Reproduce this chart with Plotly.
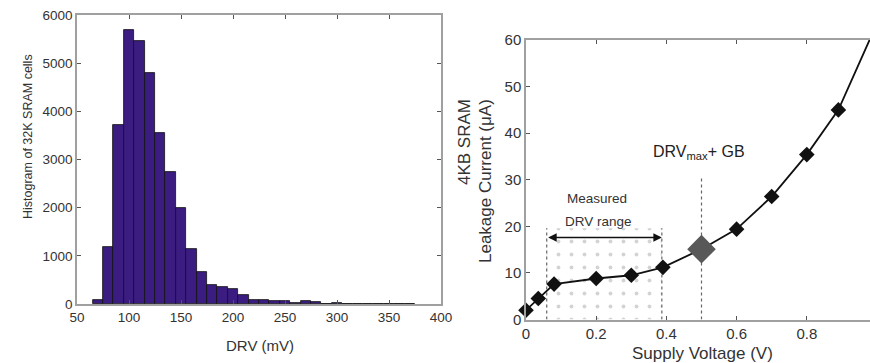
import plotly.graph_objects as go

# ---------------- data ----------------
drv_bin_centers = [70, 80, 90, 100, 110, 120, 130, 140, 150, 160, 170, 180, 190, 200,
                   210, 220, 230, 240, 250, 260, 270, 280, 290, 300, 310, 320, 330,
                   340, 350, 360, 370]
drv_counts = [80, 1190, 3720, 5690, 5470, 4800, 3550, 2740, 1990, 1150, 660, 400, 355, 315,
              195, 90, 75, 55, 55, 25, 55, 40, 10, 25, 5, 10, 10,
              0, 0, 10, 0]
hist_xticks = [50, 100, 150, 200, 250, 300, 350, 400]
hist_yticks = [0, 1000, 2000, 3000, 4000, 5000, 6000]

supply_v = [0, 0.035, 0.08, 0.2, 0.3, 0.39, 0.5, 0.6, 0.7, 0.8, 0.89]
leak_ua = [2.0, 4.5, 7.6, 8.8, 9.5, 11.2, 15.1, 19.4, 26.4, 35.4, 45.0]
curve_tail_v = [0.89, 1.0]
curve_tail_ua = [45.0, 63.6]
drvmax_gb_v = [0.5]
drvmax_gb_ua = [15.1]
drv_range_v = [0.059, 0.387]
drv_range_top = 19.6
drvmax_line_top = 30.5
v_ticks = [0, 0.2, 0.4, 0.6, 0.8]
i_ticks = [0, 10, 20, 30, 40, 50, 60]

W, H = 870, 363
def px(x):
    return x / W
def py(y):
    return 1 - y / H

TXT = "#333333"
AX = "#a0a0a0"
FONT = "Liberation Sans, Arial, sans-serif"

fig = go.Figure()

# ---------------- left: histogram ----------------
fig.add_trace(go.Bar(
    x=drv_bin_centers, y=drv_counts, width=10,
    marker=dict(color="#3b1c80", line=dict(color="#111111", width=0.8)),
    xaxis="x", yaxis="y", showlegend=False))

# ---------------- right: leakage curve ----------------
fig.add_trace(go.Scatter(
    x=[drv_range_v[0], drv_range_v[1], drv_range_v[1], drv_range_v[0], drv_range_v[0]],
    y=[0, 0, drv_range_top, drv_range_top, 0],
    mode="none", fill="toself", fillcolor="white",
    fillpattern=dict(shape=".", fgcolor="#a8a8a8", bgcolor="white", size=13, solidity=0.07),
    xaxis="x2", yaxis="y2", showlegend=False, hoverinfo="skip"))

for xv, top in [(drv_range_v[0], drv_range_top), (drv_range_v[1], drv_range_top),
                (drvmax_gb_v[0], drvmax_line_top)]:
    fig.add_trace(go.Scatter(
        x=[xv, xv], y=[0, top], mode="lines",
        line=dict(color="#666666", width=1.2, dash="dot"),
        xaxis="x2", yaxis="y2", showlegend=False, hoverinfo="skip"))

fig.add_trace(go.Scatter(
    x=supply_v + curve_tail_v[1:], y=leak_ua + curve_tail_ua[1:], mode="lines",
    line=dict(color="#111111", width=1.8),
    xaxis="x2", yaxis="y2", showlegend=False))

mv = [v for v, c in zip(supply_v, leak_ua) if v not in drvmax_gb_v]
mc = [c for v, c in zip(supply_v, leak_ua) if v not in drvmax_gb_v]
fig.add_trace(go.Scatter(
    x=mv, y=mc, mode="markers",
    marker=dict(symbol="diamond", size=12, color="#111111"),
    cliponaxis=False, xaxis="x2", yaxis="y2", showlegend=False))

fig.add_trace(go.Scatter(
    x=drvmax_gb_v, y=drvmax_gb_ua, mode="markers",
    marker=dict(symbol="diamond", size=22, color="#585858"),
    cliponaxis=False, xaxis="x2", yaxis="y2", showlegend=False))

axis_common = dict(showline=True, linecolor=AX, linewidth=1.5, showgrid=False,
                   zeroline=False, ticks="inside", ticklen=4, tickcolor="#555555",
                   tickwidth=1, automargin=False)

fig.update_layout(
    width=W, height=H,
    margin=dict(l=0, r=0, t=0, b=0, autoexpand=False),
    paper_bgcolor="white", plot_bgcolor="white",
    bargap=0,
    font=dict(family=FONT, color=TXT),
    xaxis=dict(domain=[px(77), px(441)], range=[50, 400], tickvals=hist_xticks,
               ticktext=[str(v) for v in hist_xticks], mirror="ticks",
               tickfont=dict(size=13.5, color=TXT), anchor="y", **axis_common),
    yaxis=dict(domain=[py(304), py(15)], range=[0, 6000], tickvals=hist_yticks,
               mirror="ticks", tickfont=dict(size=13.5, color=TXT), anchor="x",
               **axis_common),
    xaxis2=dict(domain=[px(526), 1.0], range=[0, (870 - 526) / 351.0], tickvals=v_ticks,
                ticktext=["0", "0.2", "0.4", "0.6", "0.8"], mirror="ticks",
                tickfont=dict(size=15, color=TXT), anchor="y2", **axis_common),
    yaxis2=dict(domain=[py(319.5), py(40)], range=[0, 60], tickvals=i_ticks,
                mirror=False, tickfont=dict(size=15, color=TXT), anchor="x2",
                **axis_common),
)

ann = []
ann.append(dict(text="DRV (mV)", x=px(260), y=py(345), xref="paper", yref="paper",
                showarrow=False, font=dict(size=15, color=TXT), xanchor="center", yanchor="middle"))
ann.append(dict(text="Histogram of 32K SRAM cells", x=px(28), y=py(137), xref="paper",
                yref="paper", showarrow=False, textangle=-90,
                font=dict(size=12.5, color=TXT), xanchor="center", yanchor="middle"))
ann.append(dict(text="Supply Voltage (V)", x=px(702), y=py(353), xref="paper", yref="paper",
                showarrow=False, font=dict(size=17, color=TXT), xanchor="center", yanchor="middle"))
ann.append(dict(text="4KB SRAM", x=px(465), y=py(97), xref="paper", yref="paper",
                showarrow=False, textangle=-90, font=dict(size=17, color=TXT),
                xanchor="center", yanchor="top"))
ann.append(dict(text="Leakage Current (μA)", x=px(486), y=py(97), xref="paper", yref="paper",
                showarrow=False, textangle=-90, font=dict(size=17, color=TXT),
                xanchor="center", yanchor="top"))
ann.append(dict(text="Measured", x=0.201, y=26.0, xref="x2", yref="y2", showarrow=False,
                font=dict(size=13.5, color=TXT)))
ann.append(dict(text="DRV range", x=0.206, y=21.0, xref="x2", yref="y2", showarrow=False,
                font=dict(size=13.5, color=TXT)))
ann.append(dict(text="DRV<sub>max</sub>+ GB", x=0.494, y=35.8, xref="x2", yref="y2",
                showarrow=False, font=dict(size=16, color="#222222")))
ann.append(dict(x=drv_range_v[1], y=17.6, ax=drv_range_v[0], ay=17.6, xref="x2", yref="y2",
                axref="x2", ayref="y2", text="", showarrow=True, arrowhead=2,
                arrowside="end+start", arrowsize=1.3, arrowwidth=1.3, arrowcolor="#111111"))
fig.update_layout(annotations=ann)

fig.write_html("out.html", config={"displayModeBar": False},
               post_script="document.body.style.margin='0px';document.body.style.overflow='hidden';")
